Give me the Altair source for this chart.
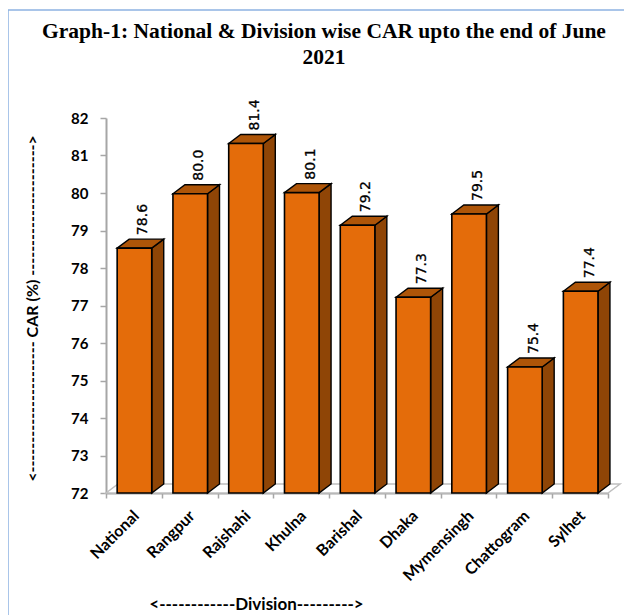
import altair as alt
import pandas as pd

divisions = ["National", "Rangpur", "Rajshahi", "Khulna", "Barishal", "Dhaka", "Mymensingh", "Chattogram", "Sylhet"]
bar_values = [78.53, 79.98, 81.32, 80.01, 79.14, 77.22, 79.44, 75.36, 77.38]
label_values = ["78.6", "80.0", "81.4", "80.1", "79.2", "77.3", "79.5", "75.4", "77.4"]
BASE = 72
Y_TOP = 82
LEFT, WIDTH_U, DX, DY = 0.2, 0.62, 0.215, 0.24

FRONT, SIDE, TOP = "#E46C0A", "#8F4506", "#AE5508"
PW, PH = 502, 375
PAD_L, PAD_T, PAD_R, PAD_B = 98, 110, 16, 122

front_rows, side_rows, top_rows, label_rows = [], [], [], []
for i, (name, v, lab) in enumerate(zip(divisions, bar_values, label_values)):
    l = i + LEFT
    r = l + WIDTH_U
    front_rows.append(dict(name=name, l=l, r=r, v=v, b=BASE))
    side_rows += [dict(name=name, x=r, hi=v, lo=BASE),
                  dict(name=name, x=r + DX, hi=v + DY, lo=BASE + DY)]
    top_rows += [dict(name=name, x=l, hi=v, lo=v),
                 dict(name=name, x=l + DX, hi=v + DY, lo=v),
                 dict(name=name, x=r, hi=v + DY, lo=v),
                 dict(name=name, x=r + DX, hi=v + DY, lo=v + DY)]
    label_rows.append(dict(name=name, x=l + WIDTH_U / 2 + 0.16, y=v + DY, t=lab))
floor_rows = [dict(x=0, hi=BASE, lo=BASE), dict(x=DX, hi=BASE + DY, lo=BASE),
              dict(x=9, hi=BASE + DY, lo=BASE), dict(x=9 + DX, hi=BASE + DY, lo=BASE + DY)]

xs = alt.Scale(domain=[0, 9], range=[0, PW], nice=False, zero=False)
ys = alt.Scale(domain=[BASE, Y_TOP], nice=False, zero=False)
GREY = "#A6A6A6"
names_js = "[" + ",".join(f"'{n}'" for n in divisions) + ",'']"

x_axis = alt.Axis(values=list(range(10)), tickCount=10, labelExpr=f"{names_js}[datum.value]", labelOffset=30,
                  labelAngle=-45, labelAlign="right", labelBaseline="middle", labelFont="Lato",
                  labelFontWeight="bold", labelFontSize=16, labelColor="black", labelPadding=15,
                  tickColor=GREY, tickSize=5, tickWidth=1.5, domainColor=GREY, domainWidth=2, grid=False,
                  title="<------------Division--------->", titleFont="Lato", titleFontSize=17,
                  titleFontWeight="bold", titleColor="black", titleX=150, titleY=103,
                  labelOverlap=False, labelBound=False, labelFlush=False)
y_axis = alt.Axis(values=list(range(BASE, Y_TOP + 1)), tickCount=11, labelFont="Lato", labelFontWeight="bold",
                  labelFontSize=15, labelColor="black", labelPadding=12, labelOverlap=False,
                  tickColor=GREY, tickSize=6, tickWidth=1.5, domainColor=GREY, domainWidth=2, grid=False,
                  title="<---------------------- CAR (%) ---------------------->", titleFont="Lato",
                  titleFontSize=16, titleFontWeight="bold", titleColor="black", titleX=-66, titleY=190)

floor = alt.Chart(pd.DataFrame(floor_rows)).mark_area(fill="white", stroke="#BFBFBF", strokeWidth=1.5).encode(
    x=alt.X("x:Q", scale=xs, axis=x_axis),
    y=alt.Y("hi:Q", scale=ys, axis=y_axis),
    y2="lo:Q")
side = alt.Chart(pd.DataFrame(side_rows)).mark_area(fill=SIDE, stroke="black", strokeWidth=1.4).encode(
    x=alt.X("x:Q", scale=xs, axis=x_axis), y=alt.Y("hi:Q", scale=ys, axis=y_axis), y2="lo:Q", detail="name:N")
top = alt.Chart(pd.DataFrame(top_rows)).mark_area(fill=TOP, stroke="black", strokeWidth=1.4).encode(
    x=alt.X("x:Q", scale=xs, axis=x_axis), y=alt.Y("hi:Q", scale=ys, axis=y_axis), y2="lo:Q", detail="name:N")
front = alt.Chart(pd.DataFrame(front_rows)).mark_rect(fill=FRONT, stroke="black", strokeWidth=1.6).encode(
    x=alt.X("l:Q", scale=xs, axis=x_axis), x2="r:Q", y=alt.Y("v:Q", scale=ys, axis=y_axis), y2="b:Q")
labels = alt.Chart(pd.DataFrame(label_rows)).mark_text(
    angle=270, align="left", baseline="middle", dx=4, font="DejaVu Sans", fontSize=14,
    color="black", stroke="black", strokeWidth=0.3).encode(
    x=alt.X("x:Q", scale=xs, axis=x_axis), y=alt.Y("y:Q", scale=ys, axis=y_axis), text="t:N")
frame = alt.Chart(pd.DataFrame({"a": [0]})).mark_rect(fill="transparent", stroke="#8DB3E2", strokeWidth=1.5).encode(
    x=alt.value(-PAD_L), x2=alt.value(PW + PAD_R + 6), y=alt.value(-PAD_T + 2), y2=alt.value(PH + PAD_B + 20))

chart = alt.layer(frame, floor, side, top, front, labels).properties(
    width=PW, height=PH,
    title=alt.Title(["Graph-1: National & Division wise CAR upto the end of June", "2021"],
                    font="Liberation Serif", fontSize=21.5, fontWeight="bold", color="black",
                    anchor="middle", dx=-33, offset=-59, lineHeight=26),
    autosize=alt.AutoSizeParams(type="none"),
    padding=dict(left=PAD_L, top=PAD_T, right=PAD_R, bottom=PAD_B),
).configure_view(stroke=None)

chart.save("out.html", embed_options={"renderer": "svg", "actions": False})
